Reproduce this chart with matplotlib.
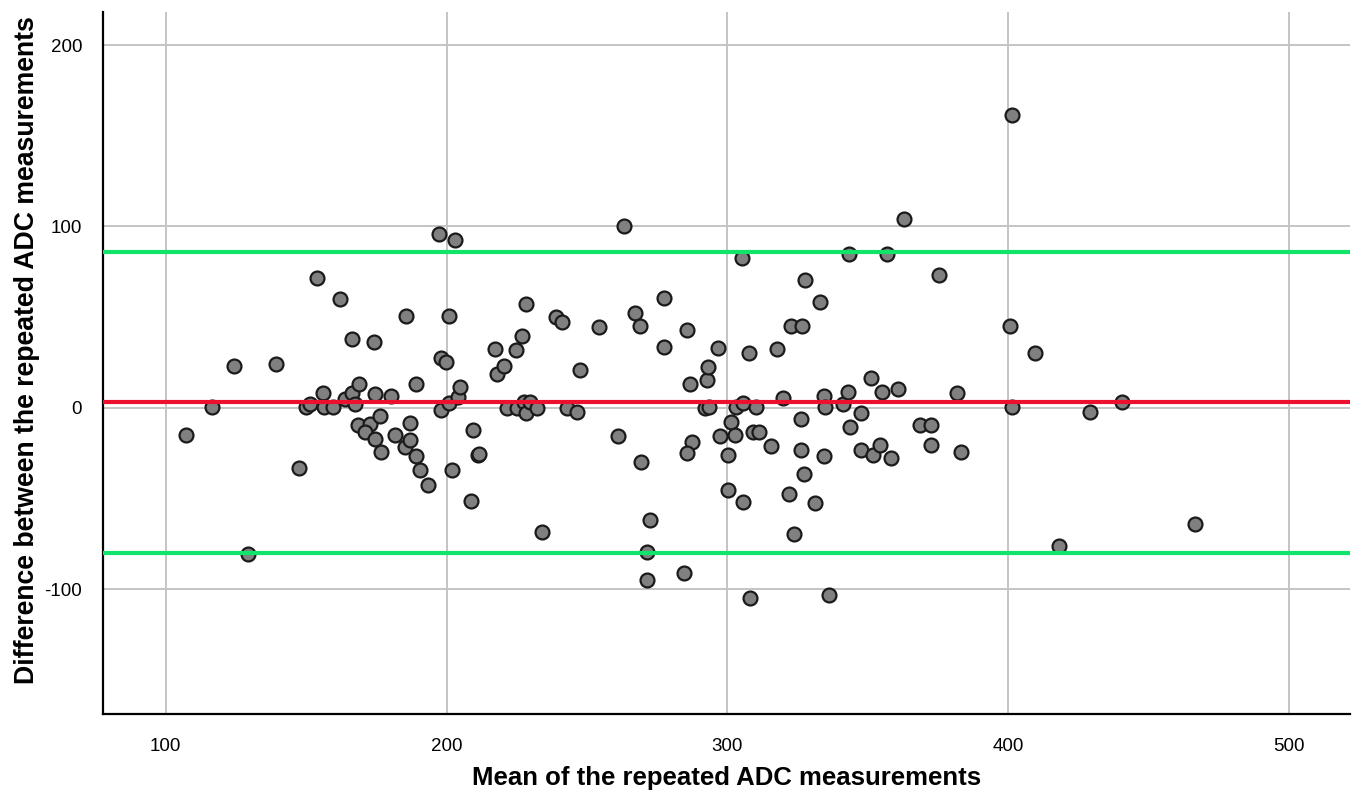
import matplotlib.pyplot as plt

plt.rcParams['font.family'] = ['Liberation Sans', 'DejaVu Sans']

# mean of the two ADC measurements
mean_adc = [107.2, 116.5, 124.3, 129.3, 139.3, 147.6, 149.9, 151.4, 153.8, 156.1,
            156.4, 159.5, 162.1, 163.8, 166.4, 166.4, 167.5, 168.9, 168.5, 172.8,
            171.1, 174.3, 174.5, 176.4, 174.5, 176.6, 180.2, 181.5, 185.4, 185.2,
            186.9, 187.1, 189.1, 189.2, 190.4, 193.4, 197.3, 198.2, 199.9, 197.9,
            200.8, 200.8, 202.0, 203.1, 204.0, 204.9, 209.4, 208.7, 211.1, 211.5,
            217.2, 217.9, 220.5, 221.4, 224.8, 225.0, 226.8, 227.4, 228.2, 228.2,
            229.8, 232.1, 234.0, 239.1, 241.1, 242.7, 246.5, 247.4, 254.1, 260.9,
            263.3, 267.1, 268.7, 269.2, 272.5, 271.5, 271.3, 277.5, 277.5, 284.5,
            285.6, 286.8, 287.4, 285.6, 291.9, 293.3, 292.6, 293.1, 296.5, 297.3,
            300.2, 300.2, 301.3, 302.8, 303.1, 305.7, 305.7, 305.0, 307.5, 308.0,
            309.1, 310.1, 311.3, 315.5, 317.7, 319.8, 321.8, 322.5, 323.7, 326.1,
            326.3, 326.7, 327.3, 327.6, 331.1, 332.9, 334.4, 334.5, 334.6, 336.2,
            341.0, 342.8, 343.4, 343.5, 347.5, 347.7, 351.2, 351.7, 354.3, 354.9,
            356.9, 358.2, 360.7, 363.0, 368.6, 372.6, 372.6, 375.2, 381.6, 383.1,
            400.7, 401.2, 401.4, 409.4, 418.1, 429.1, 440.5, 466.5]

# difference between the two measurements
diff_adc = [-15.0, 0.6, 23.1, -80.6, 24.0, -33.2, 0.3, 2.3, 71.4, 8.3,
            0.3, 0.3, 60.0, 5.0, 37.9, 8.4, 2.3, 13.1, -9.7, -8.7,
            -13.3, 36.1, 7.4, -4.5, -17.4, -24.4, 6.5, -14.8, 50.8, -21.8,
            -17.8, -8.2, 13.2, -26.6, -34.5, -42.7, 95.8, 27.4, 25.0, -1.2,
            50.7, 2.8, -34.1, 92.3, 6.0, 11.2, -12.3, -51.4, -26.2, -25.3,
            32.6, 18.7, 23.3, 0.1, 31.7, 0.1, 39.6, 3.0, 57.5, -2.7,
            3.0, 0.1, -68.5, 50.1, 47.2, 0.1, -2.1, 20.8, 44.8, -15.4,
            100.2, 52.1, 45.3, -30.1, -61.9, -79.4, -95.0, 60.6, 33.6, -90.9,
            43.1, 13.3, -19.0, -24.7, 0.1, 0.3, 15.3, 22.3, 33.2, -15.6,
            -25.8, -45.3, -8.1, -15.0, 0.3, 2.4, -52.0, 82.5, 30.2, -104.8,
            -13.2, 0.3, -13.2, -21.3, 32.3, 5.6, -47.5, 45.0, -69.4, -23.5,
            -6.4, 45.0, -36.7, 70.4, -52.7, 58.4, -26.8, 6.3, 0.3, -103.3,
            1.9, 8.9, 84.9, -10.4, -3.1, -23.1, 16.3, -26.2, -20.7, 8.5,
            84.9, -27.5, 10.5, 103.9, -9.3, -9.7, -20.4, 73.5, 8.0, -24.5,
            45.3, 0.5, 161.7, 30.2, -76.4, -2.5, 2.9, -64.1]

mean_diff = 2.9
upper_loa = 85.7
lower_loa = -79.9

x_ticks = [100, 200, 300, 400, 500]
y_ticks = [-100, 0, 100, 200]
y_tick_labels = ['-100', '0', '100', '200']

fig = plt.figure(figsize=(13.62, 7.94), dpi=100)
ax = fig.add_axes([0.0756, 0.1008, 0.9154, 0.8841])

ax.scatter(mean_adc, diff_adc, s=100, facecolor='#808080', edgecolor='#1a1a1a',
           linewidths=1.6, zorder=3)

ax.axhline(mean_diff, color='#ec0f2e', lw=3.0, zorder=4)
ax.axhline(upper_loa, color='#12e36a', lw=3.0, zorder=4)
ax.axhline(lower_loa, color='#12e36a', lw=3.0, zorder=4)

ax.set_xlim(77.7, 521.5)
ax.set_ylim(-168.9, 218.3)
ax.set_xticks(x_ticks)
ax.set_yticks(y_ticks)
ax.set_yticklabels(y_tick_labels)
ax.grid(True, color='#c4c4c4', lw=1.4, zorder=0)
ax.set_axisbelow(True)

for side in ['top', 'right']:
    ax.spines[side].set_visible(False)
for side in ['left', 'bottom']:
    ax.spines[side].set_linewidth(1.6)
    ax.spines[side].set_color('black')

ax.tick_params(axis='x', length=0, pad=17, labelsize=13.5)
ax.tick_params(axis='y', length=0, pad=15, labelsize=13.5)

# axis titles placed by hand, like the original export
fig.text(727 / 1362, 1 - 778 / 794, 'Mean of the repeated ADC measurements',
         fontsize=18.5, fontweight='bold', ha='center', va='center')
fig.text(27 / 1362, 1 - 350 / 794, 'Difference between the repeated ADC measurements',
         fontsize=19.2, fontweight='bold', ha='center', va='center', rotation=90)

fig.savefig('out.png', dpi=100)
